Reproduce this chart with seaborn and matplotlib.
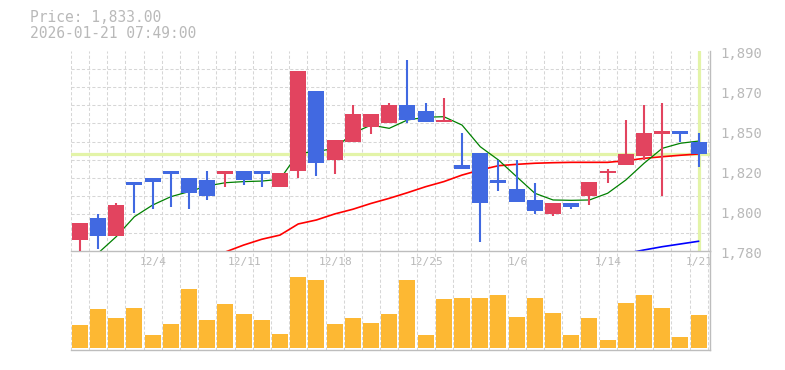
import numpy as np
import pandas as pd
import matplotlib
matplotlib.use("Agg")
import matplotlib.pyplot as plt
from matplotlib.transforms import ScaledTranslation
import seaborn as sns

# ---------------- data ----------------
dates = ["11/28", "12/1", "12/2", "12/3", "12/4", "12/5", "12/8", "12/9", "12/10",
         "12/11", "12/12", "12/15", "12/16", "12/17", "12/18", "12/19", "12/22",
         "12/23", "12/24", "12/25", "12/26", "12/29", "12/30", "1/5", "1/6", "1/7",
         "1/8", "1/9", "1/13", "1/14", "1/15", "1/16", "1/19", "1/20", "1/21"]
open_ = [1786, 1798, 1788, 1818, 1820, 1824, 1820, 1819, 1822, 1824, 1824, 1815,
         1824, 1868, 1830, 1840, 1848, 1850, 1860, 1857, 1851, 1827, 1834, 1819,
         1814, 1808, 1800, 1806, 1810, 1823, 1827, 1832, 1844, 1846, 1840]
high = [1795, 1800, 1806, 1818, 1820, 1824, 1820, 1824, 1824, 1824, 1824, 1823,
        1879, 1868, 1841, 1860, 1855, 1861, 1885, 1861, 1864, 1845, 1834, 1830,
        1830, 1817, 1806, 1806, 1818, 1825, 1852, 1860, 1861, 1846, 1845]
low = [1779, 1781, 1788, 1801, 1803, 1804, 1803, 1808, 1815, 1816, 1815, 1815,
       1820, 1821, 1822, 1840, 1844, 1850, 1850, 1851, 1851, 1825, 1785, 1813,
       1807, 1800, 1799, 1803, 1805, 1817, 1827, 1830, 1810, 1840, 1826]
close = [1795, 1788, 1805, 1816, 1818, 1822, 1812, 1810, 1824, 1819, 1822, 1823,
         1879, 1828, 1841, 1855, 1855, 1860, 1852, 1851, 1852, 1825, 1806, 1817,
         1807, 1802, 1806, 1804, 1818, 1824, 1833, 1845, 1846, 1844, 1833]
volume = [23, 39, 30, 40, 13, 24, 59, 28, 44, 34, 28, 14, 71, 68, 24, 30, 25, 34,
          68, 13, 49, 50, 50, 53, 31, 50, 35, 13, 30, 8, 45, 53, 40, 11, 33]
volume = [v * 1000 for v in volume]
nan = np.nan
ma_short = [nan, 1778.6, 1787.7, 1798.7, 1805.1, 1809.7, 1812.5, 1815.6, 1817.4,
            1818.0, 1818.3, 1819.3, 1833.6, 1834.5, 1836.3, 1844.6, 1849.1, 1847.3,
            1851.9, 1853.4, 1853.7, 1849.1, 1837.2, 1829.9, 1820.7, 1811.6, 1807.9,
            1807.7, 1807.9, 1811.6, 1818.9, 1828.1, 1836.3, 1839.1, 1840.3]
ma_mid = [nan, nan, nan, nan, nan, nan, nan, 1777.0, 1779.3, 1783.1, 1786.3, 1788.6,
          1794.7, 1796.9, 1800.2, 1802.8, 1806.0, 1808.8, 1811.9, 1815.2, 1818.0,
          1821.6, 1824.4, 1826.75, 1827.5, 1828.1, 1828.4, 1828.6, 1828.6, 1828.6,
          1829.5, 1830.8, 1831.7, 1832.5, 1833.2]
ma_long = [nan] * 30 + [1778.5, 1780.4, 1782.2, 1783.7, 1785.2]
x_tick_labels = ["12/4", "12/11", "12/18", "12/25", "1/6", "1/14", "1/21"]
y_tick_labels = ["1,780", "1,800", "1,820", "1,850", "1,870", "1,890"]
timestamp = "2026-01-21 07:49:00"

# ---------------- styling ----------------
sns.set_theme(style="white")
plt.rcParams['font.family'] = ['DejaVu Sans Mono', 'DejaVu Sans']

UP = "#E2445F"
DOWN = "#4169E1"
VOLC = "#FDB833"
CUR = "#E3F4A8"
TXT = "#b9b9b9"
GRID = "#d6d6d6"
SPINE = "#bdbdbd"

n = len(dates)
idx = np.arange(n)
df = pd.DataFrame({"i": idx, "open": open_, "high": high, "low": low,
                   "close": close, "volume": volume,
                   "ma_s": ma_short, "ma_m": ma_mid, "ma_l": ma_long})

fig = plt.figure(figsize=(7.85, 3.7), dpi=100)
W, H = 785.0, 370.0
x0, x1 = 70.7, 710.3
ax = fig.add_axes([x0 / W, (H - 250.7) / H, (x1 - x0) / W, 200.0 / H])
axv = fig.add_axes([x0 / W, (H - 350.0) / H, (x1 - x0) / W, (350.0 - 250.7) / H])
axv.set_facecolor("none")

xlim = (-0.5, 34.64)
ymin, ymax = 1780, 1890

# ---------- price panel ----------
ax.set_xlim(*xlim)
ax.set_ylim(ymin, ymax)
ax.set_yticks(np.arange(ymin, ymax + 1, 10), minor=True)
ax.set_xticks(np.arange(-0.5, n, 1.0), minor=True)
ax.grid(False)
ax.grid(which="minor", color=GRID, linestyle=(0, (3, 2)), linewidth=0.75, zorder=0)
ax.set_axisbelow(True)

cur_price = df["close"].iloc[-1]
ax.axhline(cur_price, color=CUR, lw=2.3, zorder=1)
ax.axvline(df["i"].iloc[-1], color=CUR, lw=2.3, zorder=1)

sns.lineplot(data=df, x="i", y="ma_m", ax=ax, color="#ff0000", lw=1.2,
             estimator=None, zorder=2)
sns.lineplot(data=df, x="i", y="ma_s", ax=ax, color="#008000", lw=0.9,
             estimator=None, zorder=2)
sns.lineplot(data=df, x="i", y="ma_l", ax=ax, color="#0000ff", lw=1.2,
             estimator=None, zorder=2)

up = df["close"] >= df["open"]
colors = np.where(up, UP, DOWN)
ax.vlines(df["i"], df["low"], df["high"], colors=colors, lw=1.5, zorder=3)
body_bottom = np.minimum(df["open"], df["close"])
body_h = np.maximum((df["close"] - df["open"]).abs(), 0.8)
ax.bar(df["i"], body_h, bottom=body_bottom, width=0.88, color=colors,
       linewidth=0, zorder=4)

ax.set_xlabel("")
ax.set_ylabel("")
ax.yaxis.tick_right()
ax.set_yticks(np.linspace(ymin, ymax, 6))
ax.set_yticklabels(y_tick_labels)
ax.tick_params(axis="y", which="both", length=0, pad=7.5, labelsize=10,
               labelcolor=TXT)
ax.set_xticks([dates.index(d) for d in x_tick_labels])
ax.set_xticklabels(x_tick_labels)
ax.tick_params(axis="x", which="both", length=0, pad=4.2, labelsize=8,
               labelcolor=TXT)
for lbl in ax.get_yticklabels():
    lbl.set_transform(lbl.get_transform() +
                      ScaledTranslation(0, -2 / 100, fig.dpi_scale_trans))
for lbl in ax.get_xticklabels():
    lbl.set_transform(lbl.get_transform() +
                      ScaledTranslation(1 / 100, 0, fig.dpi_scale_trans))
    lbl.set_clip_box(axv.bbox)
    lbl.set_clip_on(True)

for s in ["left", "top"]:
    ax.spines[s].set_visible(False)
for s in ["right", "bottom"]:
    ax.spines[s].set_visible(True)
    ax.spines[s].set_color(SPINE)
    ax.spines[s].set_linewidth(1.0)

# ---------- volume panel ----------
sns.barplot(data=df, x="i", y="volume", ax=axv, color=VOLC, saturation=1,
            width=0.88, linewidth=0, zorder=2)
axv.set_xlim(*xlim)
axv.set_ylim(-2000, 97300)
axv.set_xticks(np.arange(-0.5, n, 1.0), minor=True)
axv.set_xticks([])
axv.set_yticks([])
axv.grid(False)
axv.grid(which="minor", axis="x", color=GRID, linestyle=(0, (3, 2)),
         linewidth=0.75, zorder=0)
axv.set_axisbelow(True)
axv.tick_params(which="both", length=0)
axv.set_xlabel("")
axv.set_ylabel("")
for s in ["left", "top"]:
    axv.spines[s].set_visible(False)
for s in ["right", "bottom"]:
    axv.spines[s].set_visible(True)
    axv.spines[s].set_color(SPINE)
    axv.spines[s].set_linewidth(1.0)

# ---------- header ----------
fig.text(30 / W, 1 - 18 / H, f"Price: {cur_price:,.2f}", ha="left", va="center",
         fontsize=10.5, color=TXT)
fig.text(30 / W, 1 - 33 / H, timestamp, ha="left", va="center",
         fontsize=10.5, color=TXT)

fig.savefig("out.png", dpi=100, facecolor="white")
